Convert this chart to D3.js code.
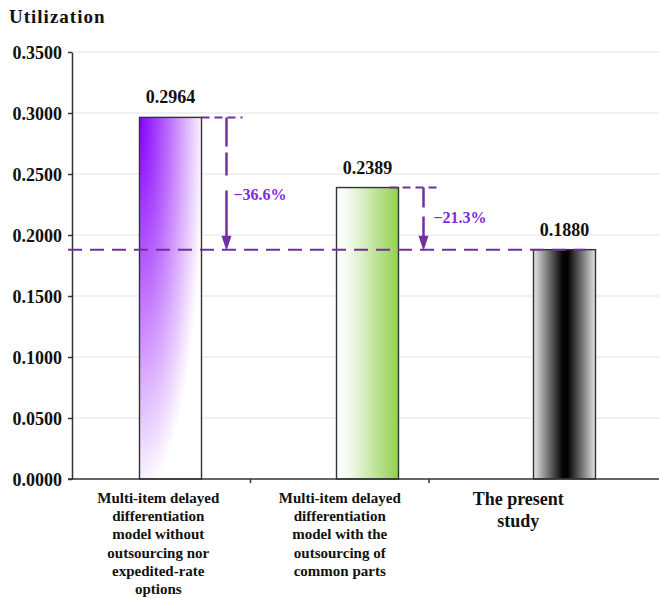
<!DOCTYPE html>
<html>
<head>
<meta charset="utf-8">
<script src="https://cdn.jsdelivr.net/npm/d3@7"></script>
<style>
  html, body { margin: 0; padding: 0; background: #fff; }
  svg { display: block; }
</style>
</head>
<body>
<svg id="chart" width="659" height="599" font-family="Liberation Serif" font-weight="bold"></svg>
<script>
// Utilization of the three models
const categories = [
  ["Multi-item delayed", "differentiation", "model without", "outsourcing nor", "expedited-rate", "options"],
  ["Multi-item delayed", "differentiation", "model with the", "outsourcing of", "common parts"],
  ["The present", "study"]
];
const utilization = [0.2964, 0.2389, 0.1880];
const yTicks = [0, 0.05, 0.10, 0.15, 0.20, 0.25, 0.30, 0.35];
const yLabel = "Utilization";
// reference (present study) index and the models compared against it
const referenceIndex = 2;
const comparedIndices = [0, 1];

const FONT = "Liberation Serif";
const svg = d3.select("#chart");
const margin = { left: 72, top: 52, bottom: 479 };

const y = d3.scaleLinear().domain([0, 0.35]).range([margin.bottom, margin.top]);
// bar slots span the full width; category label slots are narrower
const xBars = d3.scaleBand().domain(d3.range(3)).range([72, 663]).padding(0);
const xLabels = d3.scaleBand().domain(d3.range(3)).range([72, 607.5]).padding(0);
const barW = 62;
const barX = i => xBars(i) + xBars.bandwidth() / 2 - barW / 2;

const defs = svg.append("defs");
// purple bar: radial fade from the top-left corner
const gPurple = defs.append("radialGradient").attr("id", "gPurple")
  .attr("cx", 0).attr("cy", 0).attr("r", 1.05).attr("fx", 0).attr("fy", 0);
gPurple.append("stop").attr("offset", 0).attr("stop-color", "#8400ff");
gPurple.append("stop").attr("offset", 0.45).attr("stop-color", "#bd6dfc");
gPurple.append("stop").attr("offset", 1).attr("stop-color", "#ffffff");
// green bar: white on the left to green on the right
const gGreen = defs.append("linearGradient").attr("id", "gGreen")
  .attr("x1", 0).attr("x2", 1).attr("y1", 0).attr("y2", 0);
gGreen.append("stop").attr("offset", 0).attr("stop-color", "#ffffff");
gGreen.append("stop").attr("offset", 0.2).attr("stop-color", "#f3f9ee");
gGreen.append("stop").attr("offset", 1).attr("stop-color", "#92d050");
// black bar: light grey edges, black centre
const gBlack = defs.append("linearGradient").attr("id", "gBlack")
  .attr("x1", 0).attr("x2", 1).attr("y1", 0).attr("y2", 0);
gBlack.append("stop").attr("offset", 0).attr("stop-color", "#e6e6e6");
gBlack.append("stop").attr("offset", 0.47).attr("stop-color", "#050505");
gBlack.append("stop").attr("offset", 0.55).attr("stop-color", "#000000");
gBlack.append("stop").attr("offset", 1).attr("stop-color", "#e2e2e2");
const fills = ["url(#gPurple)", "url(#gGreen)", "url(#gBlack)"];

// gridlines
svg.append("g").selectAll("line").data(yTicks.filter(d => d > 0)).join("line")
  .attr("x1", 72).attr("x2", 659)
  .attr("y1", d => y(d)).attr("y2", d => y(d))
  .attr("stroke", "#e4e4e4").attr("stroke-width", 1.2);

// y axis
const yAxis = svg.append("g").attr("transform", "translate(72,0)")
  .call(d3.axisLeft(y).tickValues(yTicks).tickFormat(d3.format(".4f"))
    .tickSize(4).tickSizeOuter(0).tickPadding(6));
yAxis.attr("font-family", FONT).attr("font-size", 18).attr("font-weight", "bold");
yAxis.select(".domain").attr("stroke", "#333").attr("stroke-width", 1.5);
yAxis.selectAll(".tick line").attr("stroke", "#333").attr("stroke-width", 1.5);
yAxis.selectAll(".tick text").attr("fill", "#111").attr("dy", "0.34em");

// title
svg.append("text").attr("x", 9).attr("y", 23).attr("font-size", 19).attr("fill", "#111")
  .attr("font-family", FONT).attr("letter-spacing", 1).text(yLabel);

// bars
svg.append("g").selectAll("rect").data(utilization).join("rect")
  .attr("x", (d, i) => barX(i)).attr("width", barW)
  .attr("y", d => y(d)).attr("height", d => y(0) - y(d))
  .attr("fill", (d, i) => fills[i])
  .attr("stroke", "#333").attr("stroke-width", 1.4);

// value labels
svg.append("g").selectAll("text").data(utilization).join("text")
  .attr("x", (d, i) => barX(i) + barW / 2).attr("y", d => y(d) - 14)
  .attr("text-anchor", "middle").attr("font-size", 18).attr("fill", "#111")
  .attr("font-family", FONT)
  .text(d => d3.format(".4f")(d));

// x axis line and inner category ticks
svg.append("line").attr("x1", 68).attr("x2", 659).attr("y1", y(0)).attr("y2", y(0))
  .attr("stroke", "#333").attr("stroke-width", 1.6);
svg.append("g").selectAll("line").data([1, 2]).join("line")
  .attr("x1", d => xLabels(d)).attr("x2", d => xLabels(d))
  .attr("y1", y(0)).attr("y2", y(0) + 4)
  .attr("stroke", "#333").attr("stroke-width", 1.5);

// category labels
categories.forEach((lines, i) => {
  const big = i === 2;
  const cx = xLabels(i) + xLabels.bandwidth() / 2 - (i === 0 ? 3 : 0);
  const t = svg.append("text")
    .attr("x", cx).attr("y", big ? 505 : 503)
    .attr("text-anchor", "middle").attr("font-size", big ? 18 : 15).attr("fill", "#111")
    .attr("font-family", FONT);
  lines.forEach((s, k) => {
    t.append("tspan").attr("x", cx).attr("dy", k === 0 ? 0 : (big ? 22 : 18.2)).text(s);
  });
});

// reduction annotations against the present study
const purple = "#7030a0";
const textPurple = "#7c2ae0";
const refY = y(utilization[referenceIndex]);
const pctLabelDy = [16, 4];
const pct = d3.format(".1%");

svg.append("line")
  .attr("x1", 68).attr("x2", barX(referenceIndex) + 52)
  .attr("y1", refY).attr("y2", refY)
  .attr("stroke", purple).attr("stroke-width", 2).attr("stroke-dasharray", "14,8");

comparedIndices.forEach((i, n) => {
  const right = barX(i) + barW;
  const top = y(utilization[i]);
  const ax = right + 25;
  svg.append("line")
    .attr("x1", right - (n === 0 ? 0 : 9)).attr("x2", right + 41)
    .attr("y1", top).attr("y2", top)
    .attr("stroke", purple).attr("stroke-width", 2).attr("stroke-dasharray", "8,5");
  svg.append("line")
    .attr("x1", ax).attr("x2", ax).attr("y1", top).attr("y2", refY - 13)
    .attr("stroke", purple).attr("stroke-width", 2.5)
    .attr("stroke-dasharray", n === 0 ? "29,6,23,15,60" : "20,9,30");
  svg.append("path")
    .attr("d", `M${ax - 5},${refY - 14} L${ax + 5},${refY - 14} L${ax},${refY + 1} Z`)
    .attr("fill", purple);
  const change = (utilization[referenceIndex] - utilization[i]) / utilization[i];
  svg.append("text")
    .attr("x", ax + (n === 0 ? 7 : 10))
    .attr("y", y((utilization[i] + utilization[referenceIndex]) / 2) + pctLabelDy[n])
    .attr("font-size", 16).attr("fill", textPurple).attr("font-family", FONT)
    .text(pct(change).replace("-", "\u2212"));
});
</script>
</body>
</html>
